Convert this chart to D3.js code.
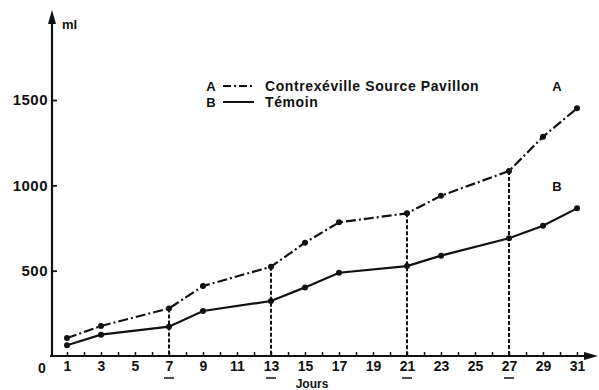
<!DOCTYPE html>
<html><head><meta charset="utf-8">
<script src="https://cdn.jsdelivr.net/npm/d3@7"></script>
<style>
body{margin:0;background:#fff;}
svg text{font-family:"Liberation Sans",Arial,sans-serif;font-weight:bold;fill:#111;}
</style></head>
<body><svg id="c" width="599" height="390"></svg>
<script>
const days = [1,3,7,9,13,15,17,21,23,27,29,31];
const seriesA = [105,176,279,410,523,664,783,836,939,1084,1285,1451];
const seriesB = [63,125,172,264,322,402,488,527,588,690,763,865];
const markedDays = [7,13,21,27];
const yTicks = [500,1000,1500];
const xTickDays = d3.range(1,32);
const legendLabels = [["A","Contrexéville Source Pavillon"],["B","Témoin"]];
const yUnit = "ml", xTitle = "Jours";

const svg = d3.select("#c");
const x = d3.scaleLinear().domain([1,31]).range([67,577]);
const y = d3.scaleLinear().domain([0,1500]).range([356,100]);
const ink = "#111";

// y axis
const yAx = svg.append("g").attr("transform","translate(52,0)")
  .call(d3.axisLeft(y).tickValues(yTicks).tickFormat(d3.format("d")).tickSizeInner(-5).tickSizeOuter(0).tickPadding(4));
yAx.select(".domain").remove();
yAx.selectAll(".tick line").attr("stroke",ink).attr("stroke-width",1.8);
yAx.selectAll(".tick text").style("font-size","15px").style("letter-spacing","0.5px").attr("fill",ink);
svg.append("line").attr("x1",52).attr("x2",52).attr("y1",y(0)+1).attr("y2",20)
  .attr("stroke",ink).attr("stroke-width",2.2);
svg.append("path").attr("d","M52,10 L48,24 L56,24 Z").attr("fill",ink);
svg.append("text").attr("x",62).attr("y",29).style("font-size","13px").text(yUnit);

// x axis
const xAx = svg.append("g").attr("transform",`translate(0,${y(0)})`)
  .call(d3.axisBottom(x).tickValues(xTickDays).tickSizeInner(-4).tickSizeOuter(0).tickPadding(5)
    .tickFormat(d => d % 2 === 1 ? d : ""));
xAx.select(".domain").remove();
xAx.selectAll(".tick line").attr("stroke",ink).attr("stroke-width",1.5);
xAx.selectAll(".tick text").style("font-size","14px").attr("fill",ink);
svg.append("line").attr("x1",50).attr("x2",588).attr("y1",y(0)).attr("y2",y(0))
  .attr("stroke",ink).attr("stroke-width",2.2);
svg.append("path").attr("d",`M598,${y(0)} L584,${y(0)-4} L584,${y(0)+4} Z`).attr("fill",ink);
svg.append("text").attr("x",42).attr("y",y(0)+17).attr("text-anchor","middle").style("font-size","14px").text("0");
// underline marked days
svg.selectAll("line.ul").data(markedDays).join("line").attr("class","ul")
  .attr("x1",d=>x(d)-5).attr("x2",d=>x(d)+5).attr("y1",y(0)+22).attr("y2",y(0)+22)
  .attr("stroke",ink).attr("stroke-width",1.5);
svg.append("text").attr("x",312).attr("y",388).attr("text-anchor","middle").style("font-size","12px").text(xTitle);

// dashed verticals
svg.selectAll("line.v").data(markedDays).join("line").attr("class","v")
  .attr("x1",d=>x(d)).attr("x2",d=>x(d))
  .attr("y1",d=>y(seriesA[days.indexOf(d)])).attr("y2",y(0))
  .attr("stroke",ink).attr("stroke-width",2).attr("stroke-dasharray","4,2");

// lines
const line = d3.line().x(d=>x(d[0])).y(d=>y(d[1]));
const dataA = days.map((d,i)=>[d,seriesA[i]]);
const dataB = days.map((d,i)=>[d,seriesB[i]]);
svg.append("path").datum(dataA).attr("d",line).attr("fill","none").attr("stroke",ink)
  .attr("stroke-width",2.2).attr("stroke-dasharray","10,3,2,3");
svg.append("path").datum(dataB).attr("d",line).attr("fill","none").attr("stroke",ink)
  .attr("stroke-width",2.2);
svg.selectAll("circle.a").data(dataA).join("circle").attr("class","a")
  .attr("cx",d=>x(d[0])).attr("cy",d=>y(d[1])).attr("r",3).attr("fill",ink);
svg.selectAll("circle.b").data(dataB).join("circle").attr("class","b")
  .attr("cx",d=>x(d[0])).attr("cy",d=>y(d[1])).attr("r",3).attr("fill",ink);

// end labels
svg.append("text").attr("x",x(31)-20).attr("y",y(seriesA[11])-17).attr("text-anchor","middle").style("font-size","13px").text("A");
svg.append("text").attr("x",x(31)-20).attr("y",y(seriesB[11])-17).attr("text-anchor","middle").style("font-size","13px").text("B");

// legend
const lg = svg.append("g");
legendLabels.forEach((l,i)=>{
  const yy = 86 + i*16;
  lg.append("text").attr("x",211).attr("y",yy+5).attr("text-anchor","middle").style("font-size","13px").text(l[0]);
  lg.append("line").attr("x1",223).attr("x2",254).attr("y1",yy).attr("y2",yy)
    .attr("stroke",ink).attr("stroke-width",2).attr("stroke-dasharray", i===0 ? "8,3,2,3" : null);
  lg.append("text").attr("x",265).attr("y",yy+5).style("font-size","14px").style("letter-spacing","0.6px").text(l[1]);
});
</script></body></html>
